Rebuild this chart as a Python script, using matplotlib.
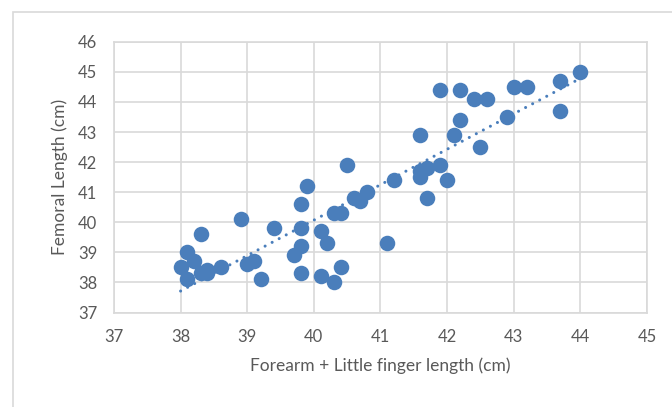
import numpy as np
import matplotlib
matplotlib.use("Agg")
import matplotlib.pyplot as plt
from matplotlib.patches import Rectangle

# forearm + little finger length (cm)
forearm = [38.0, 38.1, 38.1, 38.2, 38.3, 38.3, 38.4, 38.4, 38.6, 38.9,
           39.0, 39.1, 39.2, 39.4, 39.7, 39.8, 39.8, 39.8, 39.8, 39.9,
           40.1, 40.1, 40.2, 40.3, 40.3, 40.4, 40.4, 40.5, 40.6, 40.7,
           40.8, 41.1, 41.2, 41.6, 41.6, 41.6, 41.7, 41.7, 41.9, 41.9,
           42.0, 42.1, 42.2, 42.2, 42.4, 42.5, 42.6, 42.9, 43.0, 43.2,
           43.7, 43.7, 44.0]
# femoral length (cm)
femoral = [38.5, 39.0, 38.1, 38.7, 39.6, 38.3, 38.4, 38.3, 38.5, 40.1,
           38.6, 38.7, 38.1, 39.8, 38.9, 40.6, 39.8, 39.2, 38.3, 41.2,
           39.7, 38.2, 39.3, 40.3, 38.0, 40.3, 38.5, 41.9, 40.8, 40.7,
           41.0, 39.3, 41.4, 42.9, 41.7, 41.5, 41.8, 40.8, 44.4, 41.9,
           41.4, 42.9, 44.4, 43.4, 44.1, 42.5, 44.1, 43.5, 44.5, 44.5,
           44.7, 43.7, 45.0]

xticks = [37, 38, 39, 40, 41, 42, 43, 44, 45]
yticks = [37, 38, 39, 40, 41, 42, 43, 44, 45, 46]

blue = "#4a7ebb"
grid = "#d9d9d9"
txt = "#595959"

plt.rcParams['font.family'] = ['Lato', 'DejaVu Sans']

fig = plt.figure(figsize=(6.72, 4.07), dpi=100)
ax = fig.add_axes([0.1696, 0.232, 0.7932, 0.6655])

# outer chart border
fig.patches.append(Rectangle((13 / 672, -0.05), 1.0, 1 - 12 / 407 + 0.05,
                             transform=fig.transFigure, fill=False,
                             edgecolor=grid, linewidth=1.2))

ax.scatter(forearm, femoral, s=125, color=blue, zorder=3, linewidths=0)

# linear trendline
k, b = np.polyfit(forearm, femoral, 1)
xs = np.array([min(forearm), max(forearm)])
ax.plot(xs, k * xs + b, color=blue, linewidth=2.2,
        linestyle=(0, (0.01, 2.6)), dash_capstyle='round', zorder=4)

ax.set_xlim(37, 45)
ax.set_ylim(37, 46)
ax.set_xticks(xticks)
ax.set_yticks(yticks)
ax.grid(True, color=grid, linewidth=1.2)
ax.set_axisbelow(True)
for sp in ax.spines.values():
    sp.set_color(grid)
    sp.set_linewidth(1.2)
ax.tick_params(length=0, pad=12, labelsize=12, labelcolor=txt)

ax.set_xlabel("Forearm + Little finger length (cm)", fontsize=12.5,
              color=txt, labelpad=9)
ax.set_ylabel("Femoral Length (cm)", fontsize=12.5, color=txt, labelpad=7)

fig.savefig("out.png", dpi=100)
